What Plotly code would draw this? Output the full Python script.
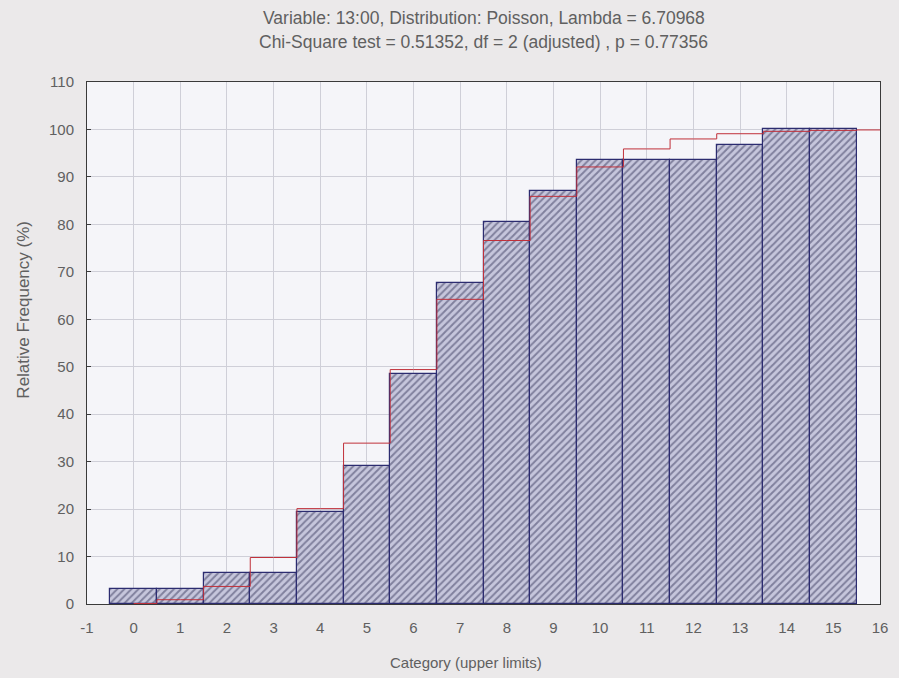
import plotly.graph_objects as go

categories = list(range(0, 16))
observed_pct = [3.2, 3.2, 6.45, 6.45, 19.4, 29.0, 48.4, 67.7, 80.6, 87.1, 93.5, 93.5, 93.5, 96.8, 100.0, 100.0]
expected_x = list(range(0, 17))
expected_pct = [0.1, 0.9, 3.7, 9.8, 20.1, 33.9, 49.4, 64.2, 76.6, 85.9, 92.1, 95.9, 98.0, 99.1, 99.6, 99.8, 99.9]
x_ticks = list(range(-1, 17))
y_ticks = list(range(0, 111, 10))

title_l1 = "Variable: 13:00, Distribution: Poisson, Lambda = 6.70968"
title_l2 = "Chi-Square test = 0.51352, df = 2 (adjusted) , p = 0.77356"
x_title = "Category (upper limits)"
y_title = "Relative Frequency (%)"

FONT = "Liberation Sans, Arial, sans-serif"
TXT = "#606060"
W, H = 899, 678
ML, MR, MT, MB = 87, 11, 82, 74
plot_w = W - ML - MR
plot_h = H - MT - MB


def py(pix):
    return (H - MB - pix) / plot_h


def px(pix):
    return (pix - ML) / plot_w


fig = go.Figure()
fig.add_trace(go.Bar(
    x=categories, y=observed_pct, width=1,
    marker=dict(
        color="#c4c4dc",
        line=dict(color="#2c2c70", width=1.2),
        pattern=dict(shape="/", fgcolor="#3a3a5e", bgcolor="#c6c6dc", size=5, solidity=0.4),
    ),
    showlegend=False,
))
fig.add_trace(go.Scatter(
    x=expected_x, y=expected_pct, mode="lines",
    line=dict(color="#c0303a", width=1, shape="hvh"),
    showlegend=False,
))

fig.update_layout(
    width=W, height=H,
    margin=dict(l=ML, r=MR, t=MT, b=MB),
    paper_bgcolor="#ebe9ea",
    plot_bgcolor="#f5f5f9",
    font=dict(family=FONT, size=15, color=TXT),
    bargap=0,
    annotations=[
        dict(text=title_l1, x=0.5, xref="paper", y=py(18), yref="paper", yanchor="middle",
             showarrow=False, font=dict(size=17.5, color=TXT)),
        dict(text=title_l2, x=0.5, xref="paper", y=py(42), yref="paper", yanchor="middle",
             showarrow=False, font=dict(size=17.5, color=TXT)),
        dict(text=x_title, x=px(470), xref="paper", y=py(662), yref="paper", yanchor="middle",
             xanchor="center", showarrow=False, font=dict(size=15, color=TXT)),
        dict(text=y_title, x=px(22), xref="paper", y=py(310), yref="paper", yanchor="middle",
             xanchor="center", textangle=-90, showarrow=False, font=dict(size=17, color=TXT)),
    ],
)

fig.update_xaxes(
    range=[-1, 16], tickmode="array", tickvals=x_ticks, ticktext=[str(v) for v in x_ticks],
    showgrid=True, gridcolor="#cfcfd8", gridwidth=1,
    showline=True, linecolor="#3a3a3a", linewidth=1, mirror=True,
    ticks="", zeroline=False, ticklabelstandoff=10,
    tickfont=dict(size=15, color=TXT),
)
fig.update_yaxes(
    range=[0, 110], tickmode="array", tickvals=y_ticks,
    showgrid=True, gridcolor="#cfcfd8", gridwidth=1,
    showline=True, linecolor="#3a3a3a", linewidth=1, mirror=True,
    ticks="inside", ticklen=4, tickcolor="#3a3a3a", zeroline=False, ticklabelstandoff=9,
    tickfont=dict(size=15, color=TXT),
)

fig.write_html("out.html")
